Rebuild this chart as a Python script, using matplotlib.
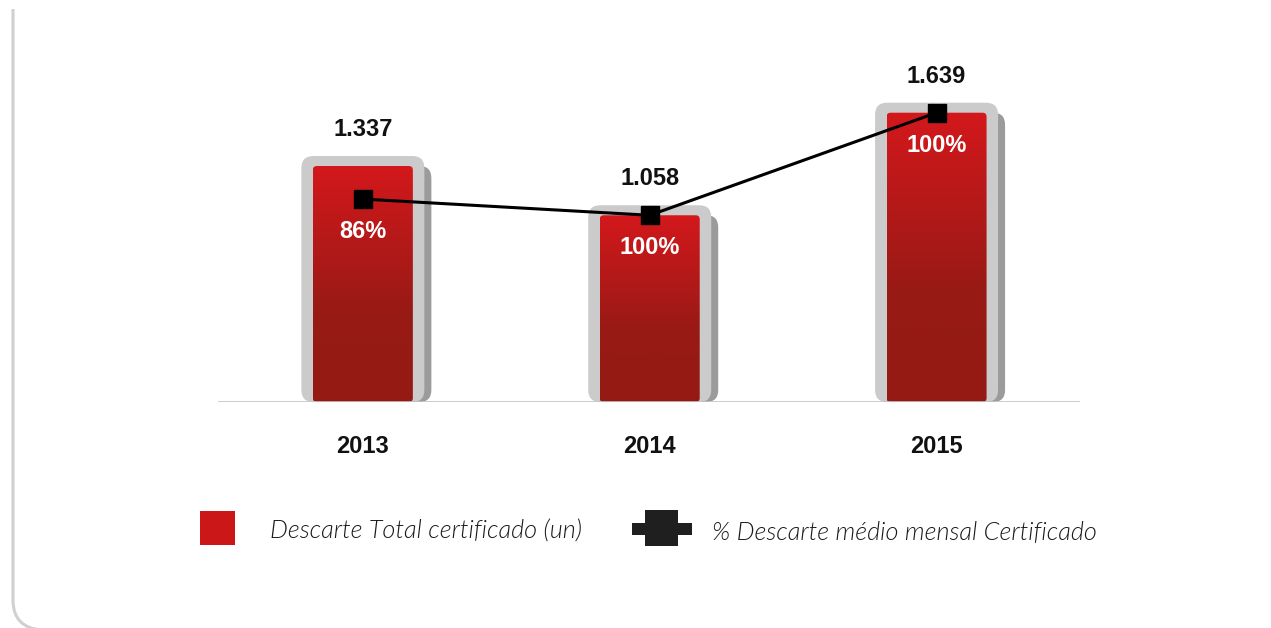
import matplotlib
matplotlib.use('Agg')
import matplotlib.pyplot as plt
import numpy as np
from matplotlib import font_manager
from matplotlib.patches import FancyBboxPatch, Rectangle, PathPatch
from matplotlib.path import Path
from matplotlib.colors import LinearSegmentedColormap

years = ['2013', '2014', '2015']
totals = [1337, 1058, 1639]          # Descarte Total certificado (un)
pct = [86, 100, 100]                 # % Descarte medio mensal certificado
legend_labels = ['Descarte Total certificado (un)', '% Descarte médio mensal Certificado']

names = {f.name for f in font_manager.fontManager.ttflist}
bold_font = 'Liberation Sans'
light = 'Lato' if 'Lato' in names else 'DejaVu Sans'

W, H = 1271, 628
fig = plt.figure(figsize=(W / 100, H / 100), dpi=100)

# background layer in pixel coords: frame + legend
bg = fig.add_axes([0, 0, 1, 1], zorder=0)
bg.set_xlim(0, W)
bg.set_ylim(H, 0)
bg.axis('off')
frame = Path([(13, 9), (13, 600), (13, 628), (42, 630)],
             [Path.MOVETO, Path.LINETO, Path.CURVE3, Path.CURVE3])
bg.add_patch(PathPatch(frame, fill=False, edgecolor='#d0d0d0', lw=2.2))

# main axes
base_px, top_px = 402, 40
ax = fig.add_axes([218 / W, (H - base_px) / H, 862 / W, (base_px - top_px) / H], zorder=1)
ax.set_xlim(-0.505, 2.5)
ax.set_ylim(0, (base_px - top_px) / 0.1765)
ax.axis('off')

sx = ax.bbox.width / (ax.get_xlim()[1] - ax.get_xlim()[0])
sy = ax.bbox.height / (ax.get_ylim()[1] - ax.get_ylim()[0])
dx, dy = 1 / sx, 1 / sy
asp = dy / dx

# vertical red gradient, relative to each bar's height
cmap = LinearSegmentedColormap.from_list(
    'red', [(0, '#951a14'), (0.38, '#981a15'), (1, '#d3181c')])

x = np.arange(len(years))
line_y = [t * p / 100 for t, p in zip(totals, pct)]

for xi, v in zip(x, totals):
    w_red, w_gray = 100 * dx, 123 * dx
    gray_top = v + 10 * dy
    # shadow
    ax.add_patch(FancyBboxPatch((xi - w_gray / 2 + 7 * dx, 0), w_gray, gray_top - 10 * dy,
                                boxstyle=f'round,pad=0,rounding_size={12 * dx}',
                                mutation_aspect=asp, fc='#9b9b9b', ec='none', zorder=1))
    # gray casing
    ax.add_patch(FancyBboxPatch((xi - w_gray / 2, 0), w_gray, gray_top,
                                boxstyle=f'round,pad=0,rounding_size={12 * dx}',
                                mutation_aspect=asp, fc='#cbcbcb', ec='none', zorder=2))
    # red bar with gradient
    bar = FancyBboxPatch((xi - w_red / 2, 0), w_red, v,
                         boxstyle=f'round,pad=0,rounding_size={4 * dx}',
                         mutation_aspect=asp, fc='none', ec='none', zorder=3)
    ax.add_patch(bar)
    img = cmap(np.linspace(0, 1, 300))[:, None, :3]
    im = ax.imshow(img, extent=[xi - w_red / 2, xi + w_red / 2, 0, v], origin='lower',
                   aspect='auto', zorder=3, interpolation='bilinear')
    im.set_clip_path(bar)
    ax.annotate(f'{v:,}'.replace(',', '.'), xy=(xi, v), xytext=(0, 30 / 1.389),
                textcoords='offset points', ha='center', va='baseline',
                fontsize=17, fontweight='bold', family=bold_font, color='#111111')
    ax.annotate(years[xi], xy=(xi, 0), xytext=(0, -51 / 1.389),
                textcoords='offset points', ha='center', va='baseline',
                fontsize=17, fontweight='bold', family=bold_font, color='#111111')

ax.axhline(0, color='#c3c3c3', lw=1.2, zorder=4)
ax.set_xlim(-0.505, 2.5)

ax.plot(x, line_y, color='black', lw=2.2, marker='s', ms=12.5, zorder=5)
for xi, ly, p in zip(x, line_y, pct):
    ax.annotate(f'{p}%', xy=(xi, ly), xytext=(0, -39 / 1.389),
                textcoords='offset points', ha='center', va='baseline',
                fontsize=17, fontweight='bold', family=bold_font, color='white', zorder=6)

# legend
bg.add_patch(Rectangle((200, 511), 35, 34, fc='#cc1719', ec='none'))
bg.add_patch(Rectangle((632, 523), 60, 12, fc='#1f1f1f', ec='none'))
bg.add_patch(Rectangle((645, 510), 33, 36, fc='#1f1f1f', ec='none'))
for tx, lab in zip([270, 712], legend_labels):
    bg.text(tx, 532, lab, ha='left', va='center', fontsize=18.2,
            style='italic', fontweight=300, family=light, color='#1a1a1a')

fig.savefig('out.png', dpi=100)
